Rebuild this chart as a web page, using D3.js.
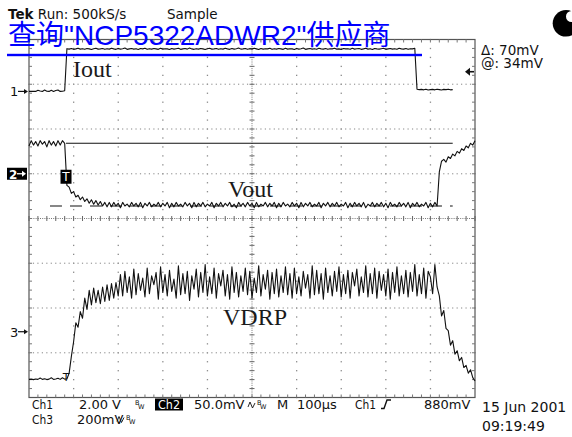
<!DOCTYPE html>
<html>
<head>
<meta charset="utf-8">
<script src="https://cdn.jsdelivr.net/npm/d3@7"></script>
<style>
  html, body { margin: 0; padding: 0; background: #fff; }
  svg { display: block; }
</style>
</head>
<body>
<svg id="chart" width="572" height="437"></svg>
<script>
// record spacing, µs per sample (screen is 10 div x 100µs)
const sampleUs = 5;

// Ch1 - Iout, volts
const ioutV = [
  0.00,0.01,0.00,0.00,0.05,0.02,0.00,0.06,0.01,0.00,0.05,0.00,0.04,0.06,0.00,0.01,0.03,
  1.91,1.89,1.92,1.88,1.90,1.93,1.89,1.91,1.88,1.92,
  1.90,1.87,1.91,1.93,1.89,1.90,1.92,1.88,1.91,1.89,
  1.93,1.90,1.88,1.92,1.89,1.91,1.94,1.88,1.90,1.92,
  1.89,1.91,1.87,1.92,1.90,1.93,1.88,1.91,1.89,1.92,
  1.90,1.88,1.93,1.89,1.91,1.90,1.87,1.92,1.89,1.91,
  1.93,1.88,1.90,1.92,1.89,1.94,1.90,1.88,1.91,1.89,
  1.92,1.90,1.87,1.91,1.93,1.89,1.90,1.92,1.88,1.91,
  1.89,1.93,1.90,1.88,1.92,1.89,1.91,1.94,1.89,1.90,
  1.92,1.88,1.91,1.89,1.93,1.90,1.87,1.92,1.89,1.91,
  1.90,1.93,1.88,1.91,1.89,1.92,1.90,1.88,1.93,1.89,
  1.91,1.90,1.87,1.92,1.89,1.91,1.94,1.88,1.90,1.92,
  1.89,1.91,1.88,1.93,1.90,1.89,1.92,1.88,1.91,1.90,
  1.93,1.89,1.90,1.87,1.92,1.90,1.91,1.88,1.93,1.89,
  1.91,1.92,1.88,1.90,1.93,1.89,1.91,1.87,1.92,1.90,
  1.89,1.91,1.93,1.88,1.90,1.92,1.89,1.91,1.88,1.93,
  1.90,1.89,1.92,1.88,1.91,1.90,1.93,
  0.10,0.08,0.09,0.07,0.10,0.06,0.08,0.09,0.07,0.10,0.08,0.06,0.09,0.08,0.10,0.07,0.08
];

// Ch2 - Vout, mV
const voutMv = [
  31,37,32,36,31,37,33,36,30,37,32,36,31,37,32,37,34,
  -13,
  -15,-22,-20,-26,-24,-29,-26,-31,-28,-33,-29,-34,-30,-35,-31,-36,-32,-37,-32,
  -37,-32,-36,-33,-38,-32,-36,-34,-37,-32,
  -36,-33,-37,-32,-38,-33,-36,-32,-37,-34,
  -36,-32,-37,-33,-36,-32,-38,-33,-37,-32,
  -36,-34,-37,-32,-36,-33,-38,-32,-37,-33,
  -36,-32,-37,-34,-36,-32,-38,-33,-36,-32,
  -37,-33,-36,-32,-37,-34,-38,-32,-36,-33,
  -37,-32,-36,-33,-38,-32,-37,-34,-36,-32,
  -37,-33,-36,-32,-38,-33,-37,-32,-36,-34,
  -37,-32,-36,-33,-38,-32,-37,-33,-36,-32,
  -37,-34,-36,-32,-38,-33,-36,-32,-37,-33,
  -36,-32,-37,-34,-36,-32,-38,-33,-37,-32,
  -36,-33,-37,-32,-38,-34,-36,-32,-37,-33,
  -36,-32,-37,-33,-38,-32,-36,-34,-37,-32,
  -36,-33,-37,-32,-38,-33,-36,-32,-37,-34,
  -36,-32,-38,-33,-37,-32,-36,
  2,14,16,13,19,17,22,20,25,23,28,26,31,29,34,32,37
];

// Ch3 - VDRP, mV
const vdrpMv = [
  -213,-212,-214,-211,-213,-207,-213,-210,-214,-212,-206,-213,-211,-208,-213,-206,-212,-211,
  -185,-110,-45,40,20,90,60,150,100,185,120,195,130,185,125,200,135,210,140,215,150,220,160,
  255,160,270,175,245,150,280,165,260,185,
  240,155,285,170,250,210,265,145,290,175,
  255,160,275,180,235,150,295,165,260,170,
  270,140,250,190,280,155,265,175,300,160,
  245,170,285,150,260,205,275,160,255,145,
  290,175,265,155,250,180,285,165,270,150,
  240,175,295,160,255,190,275,145,265,170,
  280,155,250,175,290,165,260,150,285,170,
  245,160,270,195,255,150,295,165,275,170,
  260,145,285,175,250,160,270,180,290,155,
  255,170,275,150,265,205,280,160,245,175,
  295,155,260,170,285,150,270,185,255,160,
  280,145,265,175,290,160,250,170,275,155,
  265,180,300,160,255,170,285,150,270,245,170,
  300,200,
  160,70,95,15,5,-60,-40,-100,-85,-130,-115,-160,-150,-185,-170,-205,-220
];

// channel settings: scale per division and ground marker position (div from centre)
const channelIds = ["1", "2", "3"];
const perDiv = [2, 50, 200];
const groundDiv = [2.84, 1.0, -2.53];
const traces = [ioutV, voutMv, vdrpMv];
const traceNames = ["Iout", "Vout", "VDRP"];

// Ch2 cursors, mV (solid, dashed) and trigger
const cursorMv = [34, -36];
const triggerUs = 83;
const triggerLevelV = 0.88;

// readouts
const headerText = ["Tek", "Run: 500kS/s", "Sample"];
const cursorText = ["\u0394: 70mV", "@: 34mV"];
const dateText = ["15 Jun 2001", "09:19:49"];
const linkText = "\u67e5\u8be2\"NCP5322ADWR2\"\u4f9b\u5e94\u5546";

const svg = d3.select("#chart");
const x = d3.scaleLinear().domain([0, 1000]).range([29, 475]);
const y = d3.scaleLinear().domain([-4, 4]).range([397.5, 39.5]);
const sans = "'DejaVu Sans', sans-serif";

// ---- graticule
const grid = svg.append("g");
const majorX = x.ticks(10).filter(t => t > 0 && t < 1000 && t !== 500);
const majorY = y.ticks(8).filter(v => v > -4 && v < 4 && v !== 0);
const minorX = d3.range(0, 1000.01, 10);
const minorY = d3.range(-4, 4.001, 0.2);

majorX.forEach(t => {
  grid.selectAll(null).data(minorY).enter().append("rect")
    .attr("x", x(t) - 0.6).attr("y", d => y(d) - 0.6)
    .attr("width", 1.3).attr("height", 1.3).attr("fill", "#8a8a8a");
});
majorY.forEach(v => {
  grid.selectAll(null).data(minorX).enter().append("rect")
    .attr("x", d => x(d) - 0.6).attr("y", y(v) - 0.6)
    .attr("width", 1.2).attr("height", 1.2).attr("fill", "#9a9a9a");
});

// centre cross with ticks
grid.append("line").attr("x1", x(500)).attr("x2", x(500)).attr("y1", y(4)).attr("y2", y(-4))
  .attr("stroke", "#777").attr("stroke-dasharray", "1,1.2");
grid.append("line").attr("x1", x(0)).attr("x2", x(1000)).attr("y1", y(0)).attr("y2", y(0))
  .attr("stroke", "#777").attr("stroke-dasharray", "1,1.2");
grid.selectAll(null).data(minorY).enter().append("line")
  .attr("x1", x(500) - 2.5).attr("x2", x(500) + 2.5).attr("y1", d => y(d)).attr("y2", d => y(d))
  .attr("stroke", "#666");
grid.selectAll(null).data(d3.range(0, 1000.01, 20)).enter().append("line")
  .attr("x1", d => x(d)).attr("x2", d => x(d)).attr("y1", y(0) - 2.5).attr("y2", y(0) + 2.5)
  .attr("stroke", "#666");

// border and edge ticks
grid.append("rect").attr("x", x(0)).attr("y", y(4)).attr("width", x(1000) - x(0)).attr("height", y(-4) - y(4))
  .attr("fill", "none").attr("stroke", "#555").attr("stroke-width", 1.2);
grid.selectAll(null).data(d3.range(20, 1000, 20)).enter().append("path")
  .attr("d", d => `M${x(d)},${y(4)}v3M${x(d)},${y(-4)}v-3`)
  .attr("stroke", "#777");
grid.selectAll(null).data(d3.range(-3.8, 4, 0.2)).enter().append("path")
  .attr("d", d => `M${x(0)},${y(d)}h3M${x(1000)},${y(d)}h-3`)
  .attr("stroke", "#777");

// ---- cursors (Ch2)
const yCh = (c, v) => y(groundDiv[c] + v / perDiv[c]);
svg.append("line").attr("x1", x(triggerUs)).attr("x2", x(950))
  .attr("y1", yCh(1, cursorMv[0])).attr("y2", yCh(1, cursorMv[0]))
  .attr("stroke", "#111").attr("stroke-width", 1.1);
svg.append("line").attr("x1", x(47)).attr("x2", x(950))
  .attr("y1", yCh(1, cursorMv[1])).attr("y2", yCh(1, cursorMv[1]))
  .attr("stroke", "#111").attr("stroke-width", 1.1).attr("stroke-dasharray", "12,8");

// ---- traces
traces.forEach((data, c) => {
  const line = d3.line()
    .x((d, i) => x(i * sampleUs))
    .y(d => yCh(c, d));
  svg.append("path").datum(data)
    .attr("d", line)
    .attr("fill", "none")
    .attr("stroke", "#111")
    .attr("stroke-width", 1.1)
    .attr("stroke-linejoin", "round");
});

// trace labels
const labelPos = [[73, 76.5], [228, 197], [223, 325]];
traceNames.forEach((name, i) => {
  svg.append("text").attr("x", labelPos[i][0]).attr("y", labelPos[i][1])
    .attr("font-family", "'Liberation Serif', 'DejaVu Serif', serif")
    .attr("font-size", 24).attr("fill", "#1a1a1a").text(name);
});

// ---- channel ground markers
channelIds.forEach((id, c) => {
  const gy = y(groundDiv[c]);
  if (id === "2") {
    svg.append("rect").attr("x", 7).attr("y", gy - 6).attr("width", 20).attr("height", 12).attr("fill", "#000");
    svg.append("text").attr("x", 9).attr("y", gy + 5).attr("font-family", sans).attr("font-weight", "bold")
      .attr("font-size", 12).attr("fill", "#fff").text(id);
    svg.append("path").attr("d", `M17,${gy}h6`).attr("stroke", "#fff").attr("stroke-width", 1.3);
    svg.append("path").attr("d", `M26,${gy}l-4,-3v6z`).attr("fill", "#fff");
  } else {
    svg.append("text").attr("x", 10).attr("y", gy + 5).attr("font-family", sans)
      .attr("font-size", 13).attr("fill", "#111").text(id);
    svg.append("path").attr("d", `M18,${gy}h6`).attr("stroke", "#111").attr("stroke-width", 1.2);
    svg.append("path").attr("d", `M28,${gy}l-4,-2.5v5z`).attr("fill", "#111");
  }
});

// trigger position markers
const tx = x(triggerUs);
svg.append("rect").attr("x", tx - 5.5).attr("y", y(groundDiv[1]) - 4).attr("width", 11).attr("height", 14).attr("fill", "#000");
svg.append("text").attr("x", tx).attr("y", y(groundDiv[1]) + 7.5).attr("text-anchor", "middle")
  .attr("font-family", sans).attr("font-size", 12).attr("fill", "#fff").text("T");
svg.append("text").attr("x", tx).attr("y", yCh(2, vdrpMv[0]) + 1.5).attr("text-anchor", "middle")
  .attr("font-family", sans).attr("font-size", 11).attr("fill", "#111").text("T");

// trigger level arrow (Ch1)
const ty = yCh(0, triggerLevelV);
svg.append("path").attr("d", `M474,${ty}h-6`).attr("stroke", "#111").attr("stroke-width", 1.6);
svg.append("path").attr("d", `M465,${ty}l5,-4v8z`).attr("fill", "#111");

// ---- header and cursor readouts
const head = svg.append("text").attr("x", 8).attr("y", 19).attr("font-family", sans)
  .attr("font-size", 13.5).attr("fill", "#111");
head.append("tspan").attr("font-weight", "bold").text(headerText[0]);
head.append("tspan").text(" " + headerText[1]);
svg.append("text").attr("x", 167).attr("y", 19).attr("font-family", sans)
  .attr("font-size", 13.5).attr("fill", "#111").text(headerText[2]);

cursorText.forEach((t, i) => {
  svg.append("text").attr("x", 481).attr("y", 54.5 + i * 13.5).attr("font-family", sans)
    .attr("font-size", 13.5).attr("fill", "#111").text(t);
});

// acquisition indicator
svg.append("circle").attr("cx", 566).attr("cy", 23.3).attr("r", 13.3).attr("fill", "#000");
svg.append("circle").attr("cx", 571.5).attr("cy", 16.5).attr("r", 5.5).attr("fill", "#fff");

// ---- bottom readouts
const foot = svg.append("g").attr("font-family", sans).attr("font-size", 13).attr("fill", "#111");
const put = (t, px, py, extra) => {
  const el = foot.append("text").attr("x", px).attr("y", py).text(t);
  if (extra) extra(el);
  return el;
};
const narrow = w => el => el.attr("textLength", w).attr("lengthAdjust", "spacingAndGlyphs");
const bw = (px, py) => {
  foot.append("text").attr("x", px).attr("y", py - 4).attr("font-size", 6.5).text("B");
  foot.append("text").attr("x", px + 3).attr("y", py).attr("font-size", 6.5).text("W");
};
const wave = (px, py) => {
  foot.append("path").attr("d", `M${px},${py - 2}l2,-5l2.5,6l2.5,-5`)
    .attr("fill", "none").attr("stroke", "#111").attr("stroke-width", 0.9);
};

const r1 = 409, r2 = 423.5;
put("Ch1", 32, r1, narrow(21));
put("2.00 V", 79, r1);
bw(135, r1);
foot.append("rect").attr("x", 155).attr("y", 398.5).attr("width", 28).attr("height", 12).attr("fill", "#000");
put("Ch2", 158, r1, el => { narrow(22)(el); el.attr("fill", "#fff"); });
put("50.0mV", 194, r1);
wave(248, r1);
bw(257, r1);
put("M", 277, r1);
put("100\u00b5s", 297, r1);
put("Ch1", 355, r1, narrow(21));
foot.append("path").attr("d", `M381,${r1 - 0.5}h3l3,-8.5h4`).attr("fill", "none")
  .attr("stroke", "#111").attr("stroke-width", 1.4);
put("880mV", 424, r1);
put("Ch3", 32, r2, narrow(21));
put("200mV", 77, r2);
wave(117, r2);
bw(126, r2);

put(dateText[0], 482, 412, el => el.attr("font-size", 14));
put(dateText[1], 482, 430.5, el => el.attr("font-size", 14));

// ---- overlaid link text
svg.append("text").attr("x", 8).attr("y", 44.5)
  .attr("font-family", "'Liberation Sans', 'Noto Sans CJK SC', sans-serif")
  .attr("font-size", 28).attr("fill", "#0000ff").text(linkText);
svg.append("rect").attr("x", 7).attr("y", 53.8).attr("width", 415).attr("height", 2.4).attr("fill", "#0000ff");
</script>
</body>
</html>
